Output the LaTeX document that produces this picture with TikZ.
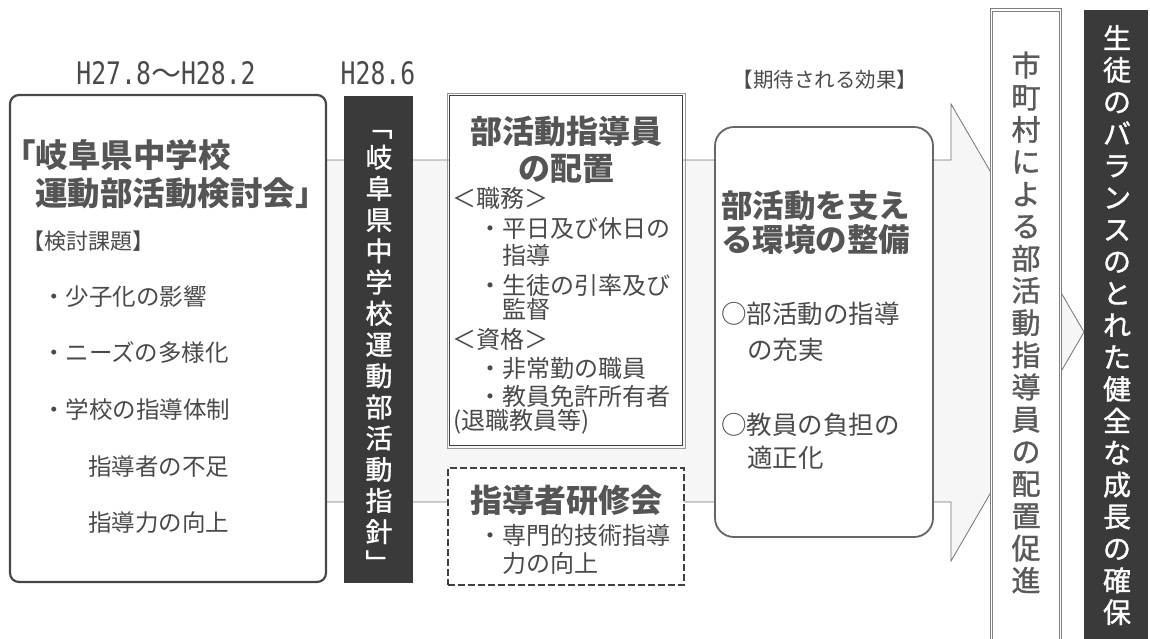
\documentclass[tikz,border=0pt]{standalone}
\usepackage{fontspec}
\usepackage{graphicx}
\newfontfamily\jp{Noto Sans CJK JP}
\newfontfamily\jpm[FakeBold=1.2]{Noto Sans CJK JP}
\newfontfamily\dvm{DejaVu Sans Mono}
\newcommand\fsz[1]{\fontsize{#1}{#1}\selectfont}
\definecolor{txtc}{HTML}{4A4A4A}
\definecolor{ttlc}{HTML}{555555}
\definecolor{darkc}{HTML}{3A3A3A}
\definecolor{cityc}{HTML}{5A5A5A}
\tikzset{
  plain/.style={inner sep=0pt, outer sep=0pt},
  arrowbg/.style={fill=black!3.5, draw=black!55, line width=0.8pt},
  leftbox/.style={plain, draw=black!72, line width=2.2pt, rounded corners=9pt, fill=white},
  darkbar/.style={plain, fill=darkc},
  topbox/.style={plain, draw=black!75, line width=1.4pt, fill=white},
  outerline/.style={draw=black!40, line width=0.8pt},
  dashbox/.style={plain, draw=black!75, line width=2.6pt, dash pattern=on 7pt off 3pt, fill=white},
  effbox/.style={plain, draw=black!60, line width=1.8pt, rounded corners=19pt, fill=white},
  citybox/.style={plain, draw=black!50, double=white, double distance=1.6pt, line width=0.8pt, fill=white},
  tx/.style={plain, anchor=base west, text=txtc},
  tc/.style={plain, anchor=base, text=ttlc},
  tl/.style={plain, anchor=base west, text=ttlc},
  vwhite/.style={plain, anchor=base, text=white},
  vgray/.style={plain, anchor=base, text=cityc},
}
\begin{document}
\begin{tikzpicture}[x=1pt,y=-1pt]
\useasboundingbox (0,0) rectangle (1150,638);
\clip (0,0) rectangle (1150,638);
% big arrow behind everything
\coordinate (a1) at (320,160);
\coordinate (a2) at (951,160);
\coordinate (a3) at (951,104);
\coordinate (a4) at (1084,332);
\coordinate (a5) at (951,561);
\coordinate (a6) at (951,502);
\coordinate (a7) at (320,502);
\filldraw[arrowbg] (a1) -- (a2) -- (a3) -- (a4) -- (a5) -- (a6) -- (a7) -- cycle;

% boxes
\node[leftbox, minimum width=316pt, minimum height=487pt] (left) at (168,338.5) {};
\node[darkbar, minimum width=69pt, minimum height=487pt] (bar) at (378.5,339.5) {};
\node[topbox, minimum width=233pt, minimum height=350pt] (top) at (566,270.5) {};
\draw[outerline] ([shift={(-2.5,-2.5)}]top.north west) rectangle ([shift={(2.5,2.5)}]top.south east);
\node[dashbox, minimum width=236pt, minimum height=117pt] (dash) at (566,526.5) {};
\node[effbox, minimum width=218pt, minimum height=410pt] (eff) at (824,332) {};
\node[citybox, minimum width=69pt, minimum height=650pt] (city) at (1026,335) {};
\node[darkbar, minimum width=64pt, minimum height=650pt] (goal) at (1116,335) {};

% headers
\node[plain, anchor=base, text=txtc] (h1) at (166,84.3) {\scalebox{0.8}[1]{\dvm\fsz{31}H27.8}{\jp\fsz{30}〜}\scalebox{0.8}[1]{\dvm\fsz{31}H28.2}};
\node[plain, anchor=base, text=txtc] (h2) at (378,84.3) {\scalebox{0.8}[1]{\dvm\fsz{31}H28.6}};
\node[tc, font=\jp\fsz{20.5}, text=txtc] (h3) at (825,87.8) {【期待される効果】};

% left box text
\node[tl, font=\jp\bfseries\fsz{32.5}] (l1) at (3,167.4) {「岐阜県中学校};
\node[tl, font=\jp\bfseries\fsz{32.5}] (l2) at (35,205.9) {運動部活動検討会」};
\node[tx, font=\jp\fsz{22}] (l3) at (22,249.4) {【検討課題】};
\node[tx, font=\jp\fsz{23.5}] (l4) at (42,305.9) {・少子化の影響};
\node[tx, font=\jp\fsz{23.5}] (l5) at (42,361.9) {・ニーズの多様化};
\node[tx, font=\jp\fsz{23.5}] (l6) at (42,418.9) {・学校の指導体制};
\node[tx, font=\jp\fsz{23.5}] (l7) at (88,475.9) {指導者の不足};
\node[tx, font=\jp\fsz{23.5}] (l8) at (88,531.9) {指導力の向上};

% dark bar vertical text
\foreach \c [count=\i from 0] in {﹁,岐,阜,県,中,学,校,運,動,部,活,動,指,針,﹂}
  \node[vwhite, font=\jpm\fsz{27}] (bar\i) at (379,136.3+31.2*\i) {\c};

% top box text
\node[tc, font=\jp\bfseries\fsz{32}] (t1) at (566,143.2) {部活動指導員};
\node[tc, font=\jp\bfseries\fsz{32}] (t2) at (566,180.7) {の配置};
\node[tx, font=\jp\fsz{24}] (t3) at (452,207.1) {＜職務＞};
\node[tx, font=\jp\fsz{24}] (t4) at (478,237.1) {・平日及び休日の};
\node[tx, font=\jp\fsz{24}] (t5) at (502,264.6) {指導};
\node[tx, font=\jp\fsz{24}] (t6) at (478,294.1) {・生徒の引率及び};
\node[tx, font=\jp\fsz{24}] (t7) at (502,318.1) {監督};
\node[tx, font=\jp\fsz{24}] (t8) at (452,348.1) {＜資格＞};
\node[tx, font=\jp\fsz{24}] (t9) at (478,377.6) {・非常勤の職員};
\node[tx, font=\jp\fsz{24}] (t10) at (478,405.1) {・教員免許所有者};
\node[tx, font=\jp\fsz{24}] (t11) at (453,429.1) {(退職教員等)};

% dashed box text
\node[tc, font=\jp\bfseries\fsz{32}] (d1) at (566,512.2) {指導者研修会};
\node[tx, font=\jp\fsz{24}] (d2) at (478,544.1) {・専門的技術指導};
\node[tx, font=\jp\fsz{24}] (d3) at (502,572.1) {力の向上};

% effect box text
\node[tl, font=\jp\bfseries\fsz{31.5}] (e1) at (721,217) {部活動を支え};
\node[tl, font=\jp\bfseries\fsz{31.5}] (e2) at (721,251) {る環境の整備};
\node[tx, font=\jp\fsz{25.5}] (e3) at (721,323.7) {○部活動の指導};
\node[tx, font=\jp\fsz{25.5}] (e4) at (747,359.7) {の充実};
\node[tx, font=\jp\fsz{25.5}] (e5) at (721,434.2) {○教員の負担の};
\node[tx, font=\jp\fsz{25.5}] (e6) at (747,467.7) {適正化};

% city box vertical text
\foreach \c [count=\i from 0] in {市,町,村,に,よ,る,部,活,動,指,導,員,の,配,置,促,進}
  \node[vgray, font=\jpm\fsz{29}] (city\i) at (1026,76+32.2*\i) {\c};

% goal box vertical text
\foreach \c [count=\i from 0] in {生,徒,の,バ,ラ,ン,ス,の,と,れ,た,健,全,な,成,長,の,確,保}
  \node[vwhite, font=\jpm\fsz{28}] (goal\i) at (1117,48.6+31.9*\i) {\c};
\end{tikzpicture}
\end{document}
